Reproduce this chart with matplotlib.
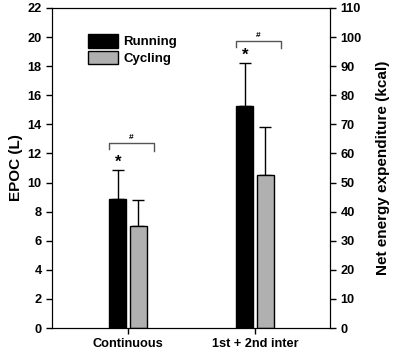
import numpy as np
import matplotlib
matplotlib.use("Agg")
import matplotlib.pyplot as plt

plt.rcParams['font.family'] = ['Liberation Sans', 'DejaVu Sans']
plt.rcParams['font.weight'] = 'bold'

# data (EPOC in L)
categories = ["Continuous", "1st + 2nd inter"]
running = [8.85, 15.25]
running_err = [2.0, 2.95]
cycling = [7.0, 10.5]
cycling_err = [1.8, 3.35]

fig = plt.figure(figsize=(4.0, 3.63), dpi=100)
ax = fig.add_axes([0.13, 0.0964, 0.695, 0.8816])

x = np.arange(len(categories))
w = 0.134
off = 0.081

ax.bar(x - off, running, w, color='black', edgecolor='black', linewidth=1,
       label='Running', zorder=2)
ax.bar(x + off, cycling, w, color='#b0b0b0', edgecolor='black', linewidth=1,
       label='Cycling', zorder=2)
ax.errorbar(x - off, running, yerr=[np.zeros(2), running_err], fmt='none',
            ecolor='black', elinewidth=1, capsize=4, capthick=1, zorder=1)
ax.errorbar(x + off, cycling, yerr=[np.zeros(2), cycling_err], fmt='none',
            ecolor='black', elinewidth=1, capsize=4, capthick=1, zorder=1)

# significance marks
for i in range(len(categories)):
    top = running[i] + running_err[i]
    ax.text(x[i] - off, top + 0.05, '*', ha='center', va='bottom', fontsize=12)
    by = top + 1.85 if i == 0 else top + 1.55
    xl = x[i] - off - 0.07
    xr = x[i] + off + 0.12
    ax.plot([xl, xl, xr, xr], [by - 0.4, by, by, by - 0.5], color='#555555', lw=1)
    ax.text((xl + xr) / 2, by + 0.15, '#', ha='center', va='bottom', fontsize=6)

ax.set_xlim(-0.598, 1.59)
ax.set_ylim(0, 22)
ax.set_yticks(np.arange(0, 23, 2))
ax.set_xticks(x)
ax.set_xticklabels(categories, fontsize=9.2)
ax.tick_params(axis='both', direction='out', length=4, width=1, labelsize=9.2)
ax.set_ylabel('EPOC (L)', fontsize=11, fontweight='bold', labelpad=3)

ax2 = ax.twinx()
ax2.set_ylim(0, 110)
ax2.set_yticks(np.arange(0, 111, 10))
ax2.tick_params(axis='y', direction='out', length=4, width=1, labelsize=9.2)
ax2.set_ylabel('Net energy expenditure (kcal)', fontsize=11, fontweight='bold',
               labelpad=10)

ax.legend(loc='upper left', bbox_to_anchor=(0.11, 0.935), frameon=False,
          fontsize=9.5, handlelength=2.3, handleheight=1.2, borderaxespad=0,
          handletextpad=0.4, labelspacing=0.2)

fig.savefig('out.png', dpi=100)
